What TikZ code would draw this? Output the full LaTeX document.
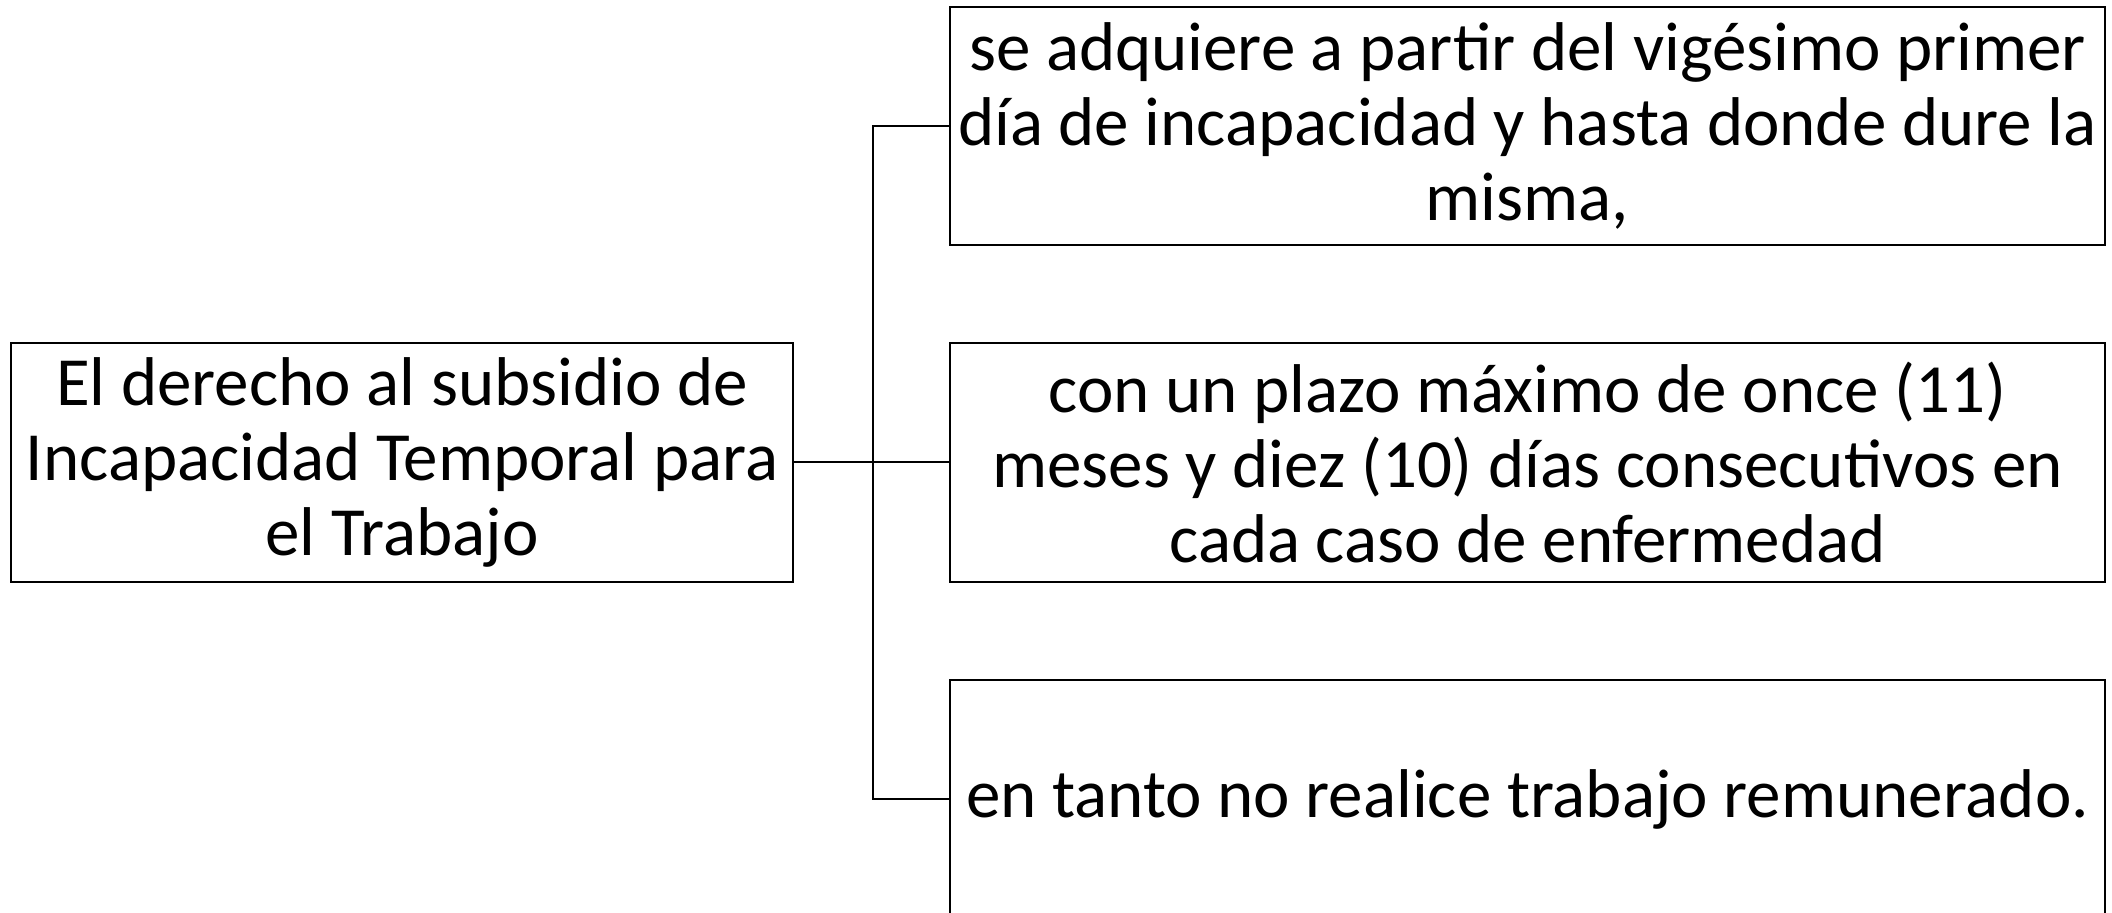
\documentclass[tikz,border=0pt]{standalone}
\usepackage{fontspec}
\setmainfont{Carlito}
\begin{document}
\begin{tikzpicture}[x=0.5pt,y=-0.5pt,
  box/.style={draw,line width=1pt,inner sep=0pt,align=center,
    font=\fontsize{34.5}{37.5}\selectfont},
  leftbox/.style={box,minimum width=391pt,minimum height=119.5pt},
  rightbox/.style={box,minimum width=577.5pt,minimum height=119pt},
  conn/.style={line width=1pt}]
\useasboundingbox (0,0) rectangle (2112,913);
\node[leftbox] (L) at (402,462.5) {El derecho al subsidio de\\Incapacidad Temporal para\\el Trabajo};
\node[rightbox] (R1) at (1527.5,126) {se adquiere a partir del vigésimo primer\\día de incapacidad y hasta donde dure la\\misma,};
\node[rightbox] (R2) at (1527.5,462.5) {con un plazo máximo de once (11)\\meses y diez (10) días consecutivos en\\cada caso de enfermedad};
\node[rightbox] (R3) at (1527.5,799) {en tanto no realice trabajo remunerado.};
\coordinate (J) at (873,462.5);
\draw[conn] (L.east) -- (R2.west);
\draw[conn] (R1.west) -| (J) |- (R3.west);
\end{tikzpicture}
\end{document}
